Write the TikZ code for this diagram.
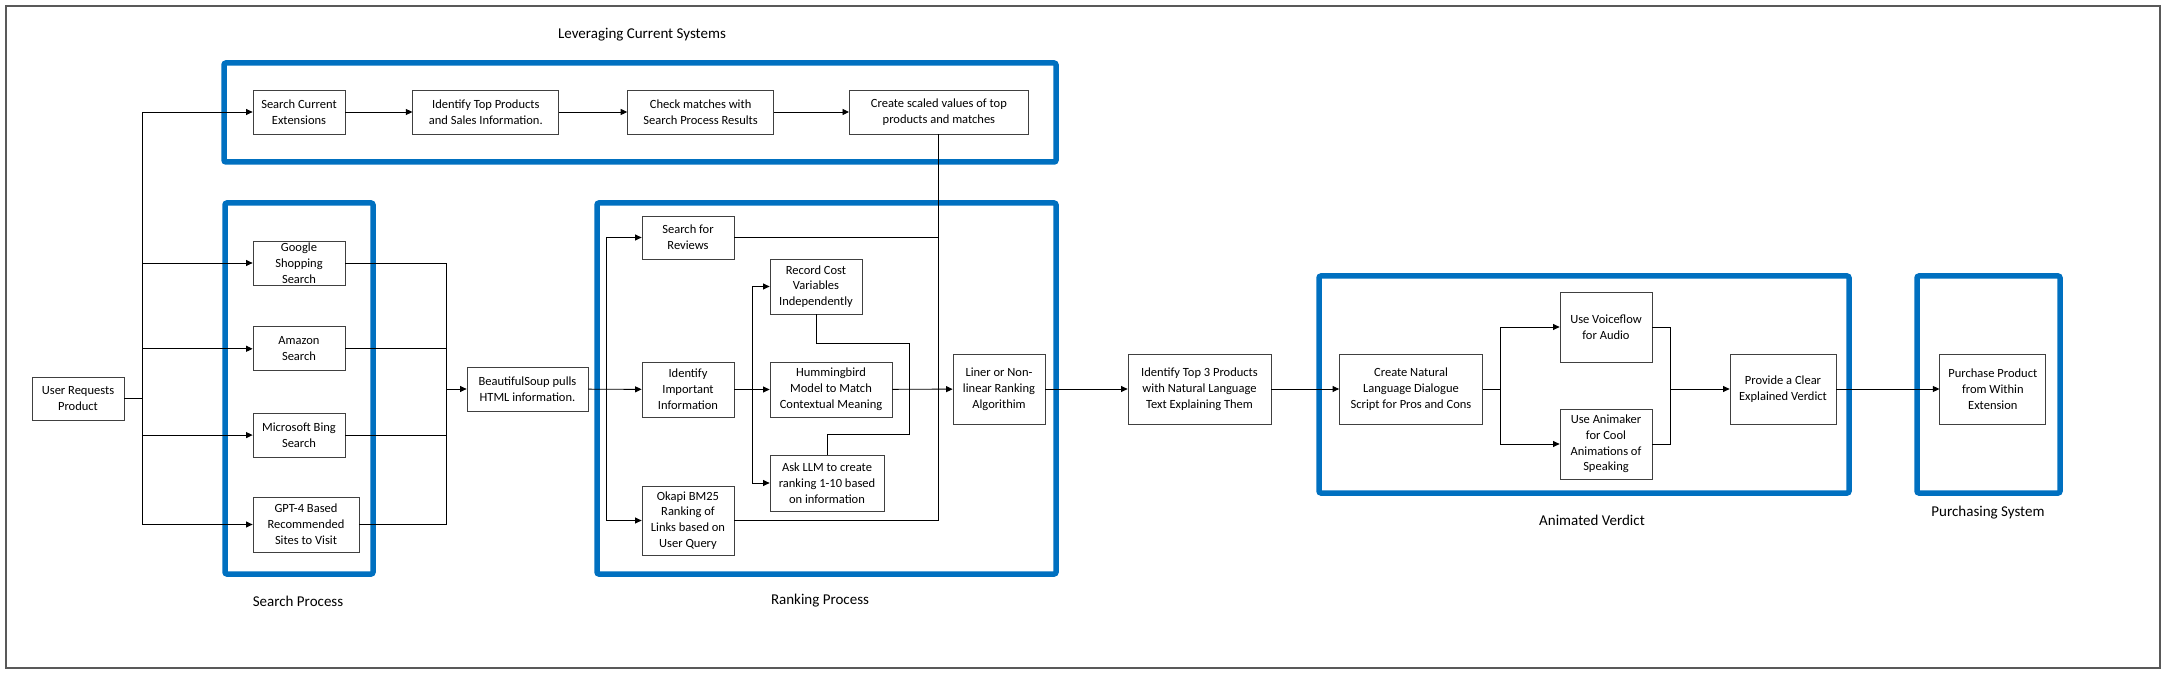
\documentclass[tikz,border=0pt]{standalone}
\usepackage{fontspec}
\setmainfont{Carlito}
\usepackage{tikz}
\usetikzlibrary{calc,positioning,arrows.meta,shapes}
\usepackage{xcolor}
\definecolor{frameblue}{RGB}{0,112,192}

\begin{document}
\begin{tikzpicture}[x=1pt,y=-1pt]
\tikzstyle{box}=[draw=black!75, line width=0.8pt, fill=white, align=center, inner sep=0pt, font=\fontsize{12.5}{15.8}\selectfont]
\tikzstyle{sz}=[minimum width=#1]
\tikzstyle{group}=[draw=frameblue, line width=5.5pt, rounded corners=2pt]
\tikzstyle{lbl}=[font=\fontsize{15}{18}\selectfont]
\tikzstyle{wire}=[line width=0.9pt]
\tikzstyle{arr}=[wire, -{Triangle[length=6.5pt,width=6pt]}]

\useasboundingbox (0,0) rectangle (2164,676);
\draw[black!65, line width=1.5pt] (6,6) rectangle (2160,668);

% groups
\draw[group] (224,63) rectangle (1056,162);
\draw[group] (225,203) rectangle (373,574);
\draw[group] (597,203) rectangle (1056,574);
\draw[group] (1319,276) rectangle (1849,493);
\draw[group] (1917,276) rectangle (2060,493);
\node[lbl] (lev) at (642,35) {Leveraging Current Systems};
\node[lbl] (srch) at (298,601) {Search Process};
\node[lbl] (rank) at (820,601) {Ranking Process};
\node[lbl] (anv) at (1592,520) {Animated Verdict};
\node[lbl] (purs) at (1988,513) {Purchasing System};

% search
\node[box, sz=92, minimum height=43] (user) at (78,398.5) {User Requests\\Product};
\node[box, sz=92, minimum height=44] (sce) at (299,112) {Search Current\\Extensions};
\node[box, sz=146, minimum height=44, right = 67pt of sce] (itp) {Identify Top Products\\and Sales Information.};
\node[box, sz=146, minimum height=44, right = 68pt of itp] (chk) {Check matches with\\Search Process Results};
\node[box, sz=179, minimum height=44, right = 75pt of chk] (csv) {Create scaled values of top\\products and matches};
\node[box, sz=92, minimum height=44] (gss) at (299,263) {Google\\Shopping\\Search};
\node[box, sz=92, minimum height=44, below = 41pt of gss] (amz) {Amazon\\Search};
\node[box, sz=92, minimum height=44, below = 41.5pt of amz] (bing) {Microsoft Bing\\Search};
\node[box, sz=106, minimum height=55] (gpt) at (306,524.5) {GPT-4 Based\\Recommended\\Sites to Visit};
\node[box, sz=121, minimum height=44] (soup) at (527.5,389) {BeautifulSoup pulls\\HTML information.};

% ranking
\node[box, sz=92, minimum height=43] (rev) at (688,237.5) {Search for\\Reviews};
\node[box, sz=92, minimum height=55] (rec) at (816,286.5) {Record Cost\\Variables\\Independently};
\node[box, sz=92, minimum height=55] (iden) at (688,389.5) {Identify\\Important\\Information};
\node[box, sz=122, minimum height=55] (hum) at (831,389.5) {Hummingbird\\Model to Match\\Contextual Meaning};
\node[box, sz=114, minimum height=56] (llm) at (827,483) {Ask LLM to create\\ranking 1-10 based\\on information};
\node[box, sz=92, minimum height=69] (okapi) at (688,520.5) {Okapi BM25\\Ranking of\\Links based on\\User Query};
\node[box, sz=92, minimum height=70] (lin) at (999,389) {Liner or Non-\\linear Ranking\\Algorithim};

% verdict
\node[box, sz=143, minimum height=70] (top3) at (1199.5,389) {Identify Top 3 Products\\with Natural Language\\Text Explaining Them};
\node[box, sz=143, minimum height=70] (nat) at (1411,389) {Create Natural\\Language Dialogue\\Script for Pros and Cons};
\node[box, sz=92, minimum height=70] (voice) at (1606,327) {Use Voiceflow\\for Audio};
\node[box, sz=92, minimum height=70] (anim) at (1606,444) {Use Animaker\\for Cool\\Animations of\\Speaking};
\node[box, sz=106, minimum height=70] (verd) at (1783,389) {Provide a Clear\\Explained Verdict};
\node[box, sz=106, minimum height=70, right = 103pt of verd] (buy) {Purchase Product\\from Within\\Extension};

% junctions
\coordinate (fanL) at (142,398.5);
\coordinate (fanR) at (446,389);
\coordinate (rk) at (606,389);
\coordinate (br) at (752,389);
\coordinate (m1) at (909,343);
\coordinate (m2) at (909,434);
\coordinate (br3) at (1500,389);
\coordinate (mg) at (1670,389);

\draw[wire] (user) -- (fanL);
\foreach \n in {sce,gss,amz,bing,gpt}{\draw[arr] (fanL) |- (\n);}
\foreach \n in {gss,amz,bing,gpt}{\draw[wire] (\n) -| (fanR);}
\draw[arr] (fanR) -- (soup);
\foreach \i/\j in {sce/itp,itp/chk,chk/csv,soup/iden,iden/hum,hum/lin,lin/top3,top3/nat,verd/buy}{\draw[arr] (\i) -- (\j);}
\draw[arr] (rk) |- (rev);
\draw[arr] (rk) |- (okapi);
\draw[arr] (br) |- (rec);
\draw[arr] (br) |- (llm);
\draw[wire] (rec) |- (m1) -- (m2) -| (llm);
\draw[wire] (csv) |- (okapi);
\draw[wire] (rev) -- (rev -| csv);
\draw[wire] (nat) -- (br3);
\draw[arr] (br3) |- (voice);
\draw[arr] (br3) |- (anim);
\draw[wire] (voice) -| (mg);
\draw[wire] (anim) -| (mg);
\draw[arr] (mg) -- (verd);
\end{tikzpicture}
\end{document}
